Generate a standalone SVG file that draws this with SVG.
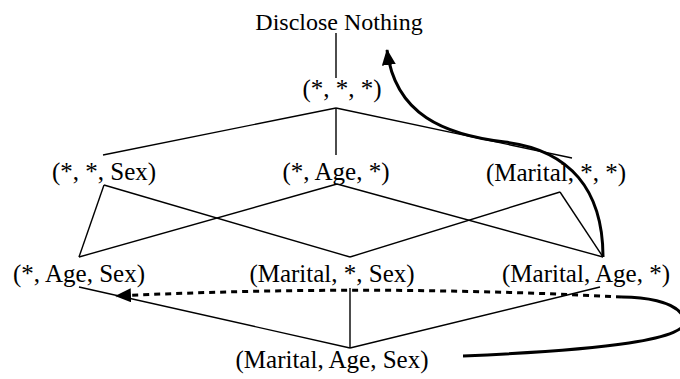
<svg xmlns="http://www.w3.org/2000/svg" width="680" height="379" viewBox="0 0 680 379">
<style>
text{font-family:"Liberation Serif","Times New Roman",serif;font-size:25px;fill:#000;text-anchor:middle}
.t{font-size:24px}
.e{stroke:#000;stroke-width:1.4;fill:none}
.thick{stroke:#000;stroke-width:3;fill:none}
.dot{stroke:#000;stroke-width:3;fill:none;stroke-dasharray:6 5}
</style>
<defs>
<marker id="ah" markerUnits="userSpaceOnUse" markerWidth="16" markerHeight="14" refX="15" refY="7" orient="auto">
<path d="M0,0 L16,7 L0,14 Z" fill="#000"/>
</marker>
</defs>
<rect width="680" height="379" fill="#fff"/>
<g id="top"><text class="t" x="339" y="30">Disclose Nothing</text></g>
<g id="n000"><text x="342" y="97">(*, *, *)</text></g>
<g id="n00S"><text x="104" y="180">(*, *, Sex)</text></g>
<g id="n0A0"><text x="336" y="180">(*, Age, *)</text></g>
<g id="nM00"><text x="556" y="181">(Marital, *, *)</text></g>
<g id="n0AS"><text x="79" y="282">(*, Age, Sex)</text></g>
<g id="nM0S"><text x="332" y="282">(Marital, *, Sex)</text></g>
<g id="nMA0"><text x="586" y="282">(Marital, Age, *)</text></g>
<g id="nMAS"><text x="332" y="368">(Marital, Age, Sex)</text></g>
<g id="connectors">
<line class="e" x1="336" y1="33" x2="336" y2="78"/>
<line class="e" x1="336" y1="108" x2="103" y2="155"/>
<line class="e" x1="336" y1="108" x2="336" y2="155"/>
<line class="e" x1="336" y1="108" x2="572" y2="158"/>
<line class="e" x1="104" y1="185" x2="79" y2="257"/>
<line class="e" x1="104" y1="185" x2="350" y2="257"/>
<line class="e" x1="337" y1="184" x2="79" y2="257"/>
<line class="e" x1="337" y1="184" x2="603" y2="257"/>
<line class="e" x1="560" y1="192" x2="350" y2="257"/>
<line class="e" x1="560" y1="192" x2="603" y2="257"/>
<line class="e" x1="350" y1="348" x2="350" y2="288"/>
<line class="e" x1="350" y1="348" x2="79" y2="287"/>
<line class="e" x1="350" y1="348" x2="600" y2="287"/>
<path class="thick" d="M603,257 C603,190 570,150 505,142 C445,135 395,115 387,50" marker-end="url(#ah)"/>
<path class="thick" d="M463,356 C600,350 695,340 684,318 C676,300 640,297 622,297"/>
<path class="dot" d="M622,297 Q370,284 116,296" marker-end="url(#ah)"/>
</g>
</svg>
